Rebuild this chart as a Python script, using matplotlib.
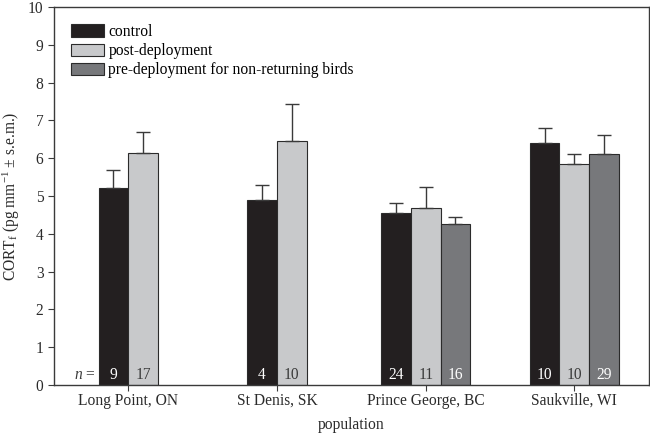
import numpy as np
import matplotlib
matplotlib.use("Agg")
import matplotlib.pyplot as plt
from matplotlib.patches import Patch

plt.rcParams['font.family'] = ['Liberation Serif', 'DejaVu Serif']
plt.rcParams['mathtext.fontset'] = 'custom'
plt.rcParams['mathtext.rm'] = 'Liberation Serif'
plt.rcParams['mathtext.it'] = 'Liberation Serif:italic'

populations = ['Long Point, ON', 'St Denis, SK', 'Prince George, BC', 'Saukville, WI']

# group, mean, sem, n
control_mean = [5.22, 4.89, 4.56, 6.39]
control_sem = [0.46, 0.39, 0.26, 0.40]
control_n = ['9', '4', '24', '10']

post_mean = [6.14, 6.46, 4.69, 5.84]
post_sem = [0.55, 0.97, 0.54, 0.28]
post_n = ['17', '10', '11', '10']

# only measured at two sites
pre_pop = [2, 3]
pre_mean = [4.25, 6.10]
pre_sem = [0.20, 0.50]
pre_n = ['16', '29']

c_control = '#231f20'
c_post = '#c8c9cb'
c_pre = '#77787b'
edge = '#2b2b2b'

fig, ax = plt.subplots(figsize=(6.5, 4.33), dpi=100)
w = 0.2

x = np.arange(len(populations))
# offsets: two-bar groups vs three-bar groups
off_c = np.array([-0.1, -0.1, -0.2, -0.2])
off_p = np.array([0.1, 0.1, 0.0, 0.0])
off_r = 0.2

ekw = dict(ecolor='#3a3a3a', elinewidth=1.0, capsize=5, capthick=1.0)

ax.bar(x + off_c, control_mean, w, color=c_control, edgecolor=edge, linewidth=0.8,
       yerr=[np.zeros(4), control_sem], error_kw=ekw, zorder=2)
ax.bar(x + off_p, post_mean, w, color=c_post, edgecolor=edge, linewidth=0.8,
       yerr=[np.zeros(4), post_sem], error_kw=ekw, zorder=2)
ax.bar(np.array(pre_pop) + off_r, pre_mean, w, color=c_pre, edgecolor=edge, linewidth=0.8,
       yerr=[np.zeros(2), pre_sem], error_kw=ekw, zorder=2)

fs = 11.2
for i in range(4):
    ax.text(x[i] + off_c[i], 0.04, control_n[i], ha='center', va='bottom', color='white', fontsize=fs, zorder=3)
    ax.text(x[i] + off_p[i], 0.04, post_n[i], ha='center', va='bottom', color='#3a3a3a', fontsize=fs, zorder=3)
for j, p in enumerate(pre_pop):
    ax.text(p + off_r, 0.04, pre_n[j], ha='center', va='bottom', color='white', fontsize=fs, zorder=3)
ax.text(-0.22, 0.04, '$n$ =', ha='right', va='bottom', color='#3a3a3a', fontsize=fs)

ax.set_xlim(-0.5, 3.5)
ax.set_ylim(0, 10)
ax.set_yticks(range(11))
ax.set_xticks(x)
ax.set_xticklabels(populations, fontsize=fs)
ax.tick_params(axis='y', labelsize=fs, direction='out', length=4, color='#3a3a3a', labelcolor='#2b2b2b')
ax.tick_params(axis='x', direction='out', length=4, pad=1.5, color='#3a3a3a', labelcolor='#2b2b2b')
for s in ax.spines.values():
    s.set_color('#3a3a3a')
    s.set_linewidth(1.0)

ax.set_xlabel('population', fontsize=fs, color='#2b2b2b', labelpad=6)
ax.set_ylabel(r'CORT$_{\rm f}$ (pg mm$^{-1}$ ± s.e.m.)', fontsize=fs, color='#2b2b2b')

handles = [Patch(facecolor=c_control, edgecolor=edge, linewidth=0.8),
           Patch(facecolor=c_post, edgecolor=edge, linewidth=0.8),
           Patch(facecolor=c_pre, edgecolor=edge, linewidth=0.8)]
ax.legend(handles, ['control', 'post-deployment', 'pre-deployment for non-returning birds'],
          loc='upper left', frameon=False, fontsize=fs, handlelength=2.1, handleheight=0.85,
          handletextpad=0.3, labelspacing=0.2, borderaxespad=0.7)

fig.subplots_adjust(left=0.083, right=0.998, top=0.984, bottom=0.111)
fig.savefig('out.png', dpi=100)
